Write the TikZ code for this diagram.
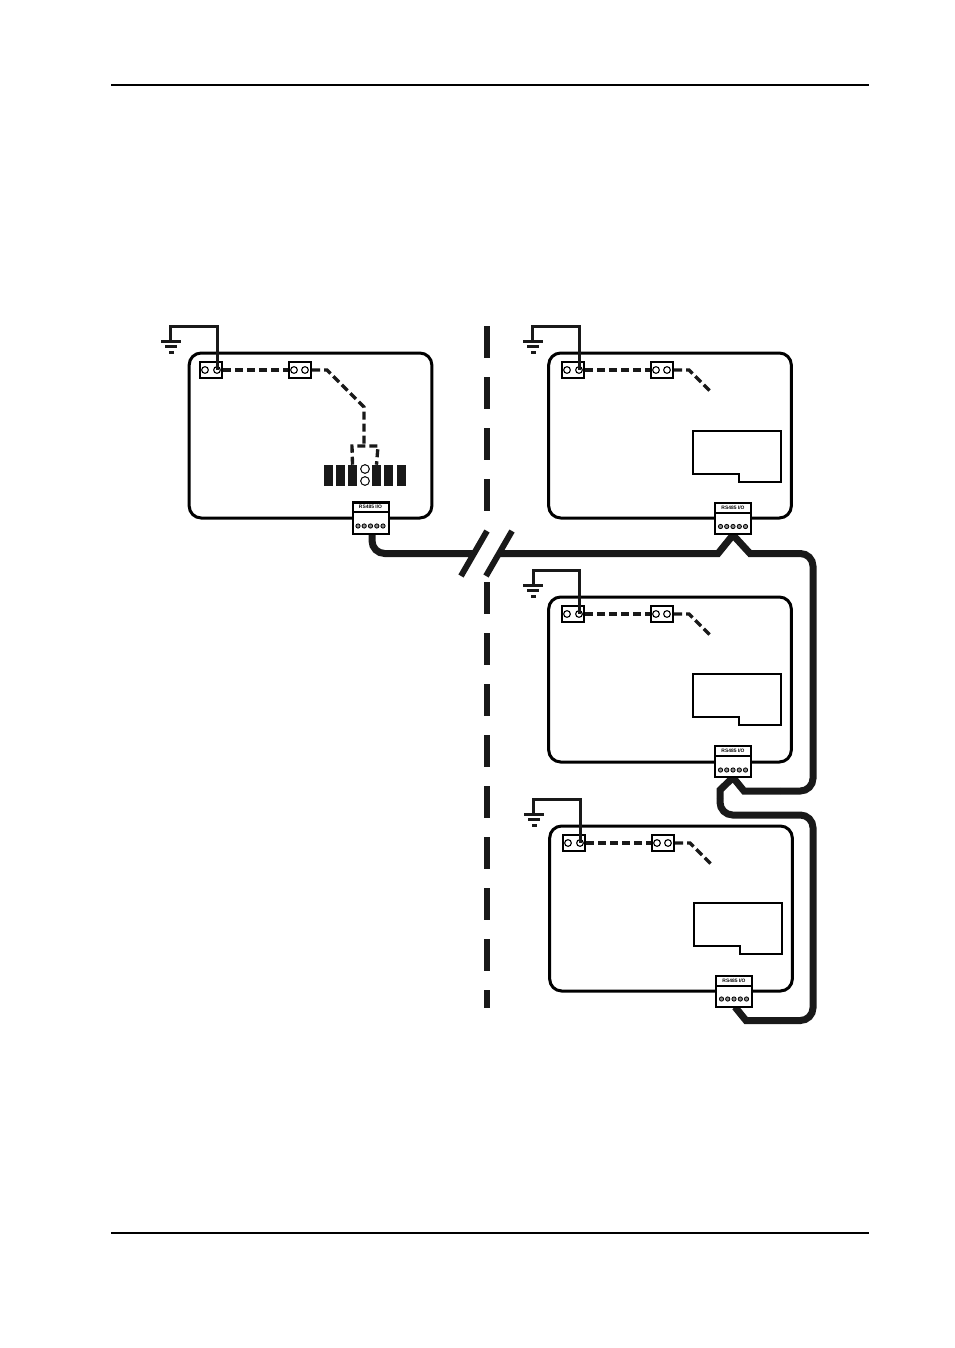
\documentclass[tikz,border=0pt]{standalone}
\usepackage{fontspec}
\setsansfont{Liberation Sans}
\tikzset{
  board/.style={draw,line width=2.25pt,rounded corners=9pt,inner sep=0pt,minimum width=182pt,minimum height=123.75pt},
  block/.style={draw,fill=white,line width=1.5pt,inner sep=0pt,minimum width=16.5pt,minimum height=12pt},
  hole/.style={circle,draw,fill=white,line width=0.85pt,inner sep=0pt,minimum size=5pt},
  led/.style={circle,draw,fill=white,line width=0.75pt,inner sep=0pt,minimum size=6.5pt},
  screw/.style={circle,draw,fill=black!45,line width=0.6pt,inner sep=0pt,minimum size=3.2pt},
  segbar/.style={fill=black!90,inner sep=0pt,minimum width=6.75pt,minimum height=15.75pt},
  terminal/.style={draw,fill=white,line width=1.5pt,inner sep=0pt,minimum width=27pt,minimum height=23.25pt},
  termhead/.style={draw,line width=1.5pt,inner sep=0pt,minimum width=27pt,minimum height=7.5pt,font=\fontsize{3.7}{4}\selectfont\sffamily\bfseries},
  earthwire/.style={line width=2.25pt,color=black!90,line join=miter},
  earthbar/.style={line width=2.25pt,color=black!90},
  strap/.style={line width=2.5pt,color=black!90,dash pattern=on 6pt off 3pt},
  cable/.style={line width=5.25pt,color=black!90,line join=miter},
  bendcable/.style={cable,rounded corners=9.5pt},
  window/.style={draw,line width=1.75pt,line join=miter},
  breakline/.style={line width=4.5pt,color=black!90,dash pattern=on 24pt off 14.25pt}
}
\begin{document}
\begin{tikzpicture}[x=0.75pt,y=0.75pt,yscale=-1,xscale=1]
\useasboundingbox (0,0) rectangle (954,1348);

%Straight Lines page rules
\coordinate (ruleTL) at (111,85);
\coordinate (ruleTR) at (869,85);
\coordinate (ruleBL) at (111,1233);
\coordinate (ruleBR) at (869,1233);
\draw [line width=1.5pt] (ruleTL) -- (ruleTR);
\draw [line width=1.5pt] (ruleBL) -- (ruleBR);

%Straight Lines centre break
\coordinate (breakA) at (487,326);
\coordinate (breakB) at (487,518);
\coordinate (breakC) at (487,582);
\coordinate (breakD) at (487,1008);
\draw [breakline] (breakA) -- (breakB);
\draw [breakline] (breakC) -- (breakD);

%Shape: left board
\node (boardA) [board] at (310.5,435.5) {};
\node (blockAa) [block] at (211,370) {};
\node (holeAa) [hole] at (205,370) {};
\node (holeAb) [hole] at (217,370) {};
\node (blockAb) [block] at (300,370) {};
\node (holeAc) [hole] at (294,370) {};
\node (holeAd) [hole] at (305,370) {};
\coordinate (cornerAa) at (217,326);
\coordinate (cornerAb) at (170,326);
\coordinate (earthA) at (170,341);
\draw [earthwire] (holeAb.center) -- (cornerAa) -- (cornerAb) -- (earthA);
\draw [earthbar] (161,341) -- (181,341) (165,346.5) -- (177,346.5) (169,352.5) -- (174,352.5);
\draw [strap] (blockAa) -- (blockAb);
\coordinate (bendAa) at (327,370);
\coordinate (bendAb) at (364,407);
\coordinate (bendAc) at (364,446);
\draw [strap] (blockAb.east) -- (bendAa) -- (bendAb) -- (bendAc);
\node (barAa) [segbar] at (328.5,475.5) {};
\node (barAb) [segbar] at (340.5,475.5) {};
\node (barAc) [segbar] at (352.5,475.5) {};
\node (barAd) [segbar] at (376.5,475.5) {};
\node (barAe) [segbar] at (388.5,475.5) {};
\node (barAf) [segbar] at (401.5,475.5) {};
\node (ledAa) [led] at (365,469) {};
\node (ledAb) [led] at (365,481) {};
\draw [strap] (barAc.north) -- (352,446) -- (378,446) -- (barAd.north);

%Shape: top right board
\node (boardB) [board] at (670,435.5) {};
\node (blockBa) [block] at (573,370) {};
\node (holeBa) [hole] at (567,370) {};
\node (holeBb) [hole] at (579,370) {};
\node (blockBb) [block] at (662,370) {};
\node (holeBc) [hole] at (656,370) {};
\node (holeBd) [hole] at (667,370) {};
\coordinate (cornerBa) at (579,326);
\coordinate (cornerBb) at (532,326);
\coordinate (earthB) at (532,341);
\draw [earthwire] (holeBb.center) -- (cornerBa) -- (cornerBb) -- (earthB);
\draw [earthbar] (523,341) -- (543,341) (527,346.5) -- (539,346.5) (531,352.5) -- (536,352.5);
\draw [strap] (blockBa) -- (blockBb);
\coordinate (bendBa) at (689,370);
\coordinate (bendBb) at (710,391);
\draw [strap] (blockBb.east) -- (bendBa) -- (bendBb);
\draw [window] (693,431) -- (781,431) -- (781,482) -- (739,482) -- (739,474) -- (693,474) -- cycle;

%Shape: middle right board
\node (boardC) [board] at (670,679.5) {};
\node (blockCa) [block] at (573,614) {};
\node (holeCa) [hole] at (567,614) {};
\node (holeCb) [hole] at (579,614) {};
\node (blockCb) [block] at (662,614) {};
\node (holeCc) [hole] at (656,614) {};
\node (holeCd) [hole] at (667,614) {};
\coordinate (cornerCa) at (579,570);
\coordinate (cornerCb) at (533,570);
\coordinate (earthC) at (533,585);
\draw [earthwire] (holeCb.center) -- (cornerCa) -- (cornerCb) -- (earthC);
\draw [earthbar] (523,585) -- (543,585) (527,590.5) -- (539,590.5) (531,596.5) -- (536,596.5);
\draw [strap] (blockCa) -- (blockCb);
\coordinate (bendCa) at (689,614);
\coordinate (bendCb) at (710,635);
\draw [strap] (blockCb.east) -- (bendCa) -- (bendCb);
\draw [window] (693,674) -- (781,674) -- (781,725) -- (739,725) -- (739,717) -- (693,717) -- cycle;

%Shape: bottom right board
\node (boardD) [board] at (671,908.5) {};
\node (blockDa) [block] at (574,843) {};
\node (holeDa) [hole] at (568,843) {};
\node (holeDb) [hole] at (580,843) {};
\node (blockDb) [block] at (663,843) {};
\node (holeDc) [hole] at (657,843) {};
\node (holeDd) [hole] at (668,843) {};
\coordinate (cornerDa) at (580,799);
\coordinate (cornerDb) at (533,799);
\coordinate (earthD) at (533,814);
\draw [earthwire] (holeDb.center) -- (cornerDa) -- (cornerDb) -- (earthD);
\draw [earthbar] (524,814) -- (544,814) (528,819.5) -- (540,819.5) (532,825.5) -- (537,825.5);
\draw [strap] (blockDa) -- (blockDb);
\coordinate (bendDa) at (690,843);
\coordinate (bendDb) at (711,864);
\draw [strap] (blockDb.east) -- (bendDa) -- (bendDb);
\draw [window] (694,903) -- (782,903) -- (782,954) -- (740,954) -- (740,946) -- (694,946) -- cycle;

%Straight Lines cable
\coordinate (cableAo) at (372,534);
\coordinate (cableAa) at (372,553.5);
\coordinate (cutAa) at (473,553.5);
\coordinate (cutAb) at (498,553.5);
\coordinate (cableBa) at (718,553.5);
\coordinate (peakB) at (733,535);
\coordinate (cableBb) at (750,553.5);
\coordinate (seamB) at (780,553.5);
\coordinate (cableBc) at (813,553.5);
\coordinate (cableCa) at (813,791);
\coordinate (seamC) at (780,791);
\coordinate (cableCb) at (744,791);
\coordinate (peakC) at (733,777.5);
\coordinate (cableCc) at (720,790);
\coordinate (seamD) at (720,798);
\coordinate (cableCd) at (720,815);
\coordinate (cableDa) at (813,815);
\coordinate (cableDb) at (813,1020.5);
\coordinate (seamE) at (780,1020.5);
\coordinate (cableDc) at (746,1020.5);
\coordinate (peakD) at (735,1007);
\draw [bendcable] (cableAo) -- (cableAa) -- (cutAa);
\draw [cable] (cutAb) -- (cableBa) -- (peakB) -- (cableBb) -- (seamB);
\draw [bendcable] (seamB) -- (cableBc) -- (cableCa) -- (seamC);
\draw [cable] (seamC) -- (cableCb) -- (peakC) -- (cableCc) -- (seamD);
\draw [bendcable] (seamD) -- (cableCd) -- (cableDa) -- (cableDb) -- (seamE);
\draw [cable] (seamE) -- (cableDc) -- (peakD);

%Shape: terminals
\node (termA) [terminal] at (370.5,518) {};
\node (headA) [termhead] at (370.5,507) {RS485 I/O};
\foreach \sx in {358,364.2,370.5,376.8,383} \node [screw] at (\sx,526) {};
\node (termB) [terminal] at (733,518.5) {};
\node (headB) [termhead] at (733,508) {RS485 I/O};
\foreach \sx in {720.5,726.7,733,739.3,745.5} \node [screw] at (\sx,526.5) {};
\node (termC) [terminal] at (733,761.5) {};
\node (headC) [termhead] at (733,751) {RS485 I/O};
\foreach \sx in {720.5,726.7,733,739.3,745.5} \node [screw] at (\sx,770) {};
\node (termD) [terminal] at (734,991.5) {};
\node (headD) [termhead] at (734,981) {RS485 I/O};
\foreach \sx in {721.5,727.7,734,740.3,746.5} \node [screw] at (\sx,999) {};

%Straight Lines break marks
\coordinate (slashAa) at (487,531);
\coordinate (slashAb) at (461,576);
\coordinate (slashBa) at (512,531);
\coordinate (slashBb) at (486,576);
\draw [line width=4.5pt,color=black!90] (slashAa) -- (slashAb);
\draw [line width=4.5pt,color=black!90] (slashBa) -- (slashBb);

\end{tikzpicture}
\end{document}
